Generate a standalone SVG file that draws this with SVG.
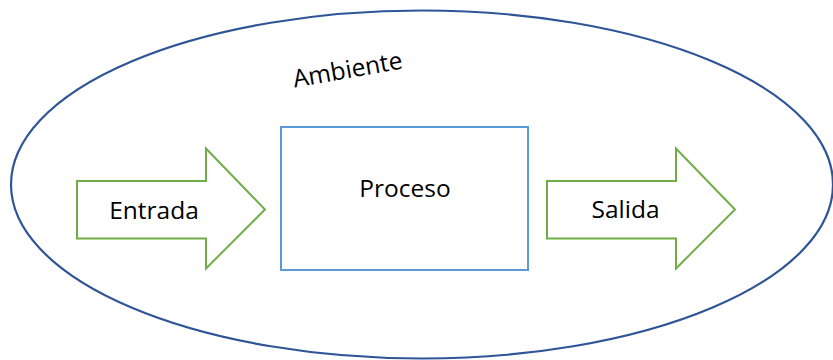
<svg xmlns="http://www.w3.org/2000/svg" width="833" height="360" viewBox="0 0 833 360">
<style>
.lbl{font-family:"Open Sans","Noto Sans","Liberation Sans",sans-serif;font-size:24.5px;fill:#000;text-anchor:middle}
.arrow{fill:#fff;stroke:#70AD47;stroke-width:2;stroke-linejoin:miter}
</style>
<rect width="833" height="360" fill="#fff"/>
<g id="ambiente">
<ellipse cx="422" cy="184.5" rx="411" ry="174" fill="none" stroke="#2F5597" stroke-width="2.2"/>
<text class="lbl" x="349" y="78" transform="rotate(-10 349 78)">Ambiente</text>
</g>
<g id="entrada">
<polygon class="arrow" points="77,181 206,181 206,148.5 265,209.5 206,268.5 206,238.5 77,238.5"/>
<text class="lbl" x="154" y="219">Entrada</text>
</g>
<g id="proceso">
<rect x="281" y="127" width="247" height="143" fill="#fff" stroke="#5B9BD5" stroke-width="2"/>
<text class="lbl" x="405" y="197">Proceso</text>
</g>
<g id="salida">
<polygon class="arrow" points="547,181 676,181 676,148.5 735,209.5 676,268.5 676,238.5 547,238.5"/>
<text class="lbl" x="625.5" y="218">Salida</text>
</g>
<g id="connectors"></g>
</svg>
